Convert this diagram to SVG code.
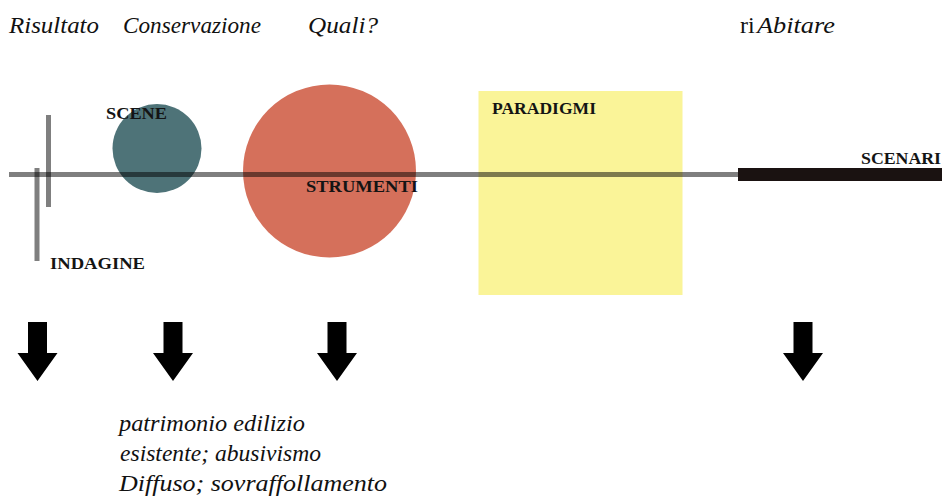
<svg xmlns="http://www.w3.org/2000/svg" width="944" height="499" viewBox="0 0 944 499">
<defs>
<style>
.title{font-family:"Liberation Serif","Times New Roman",serif;font-style:italic;font-size:24px;fill:#111}
.up{font-style:normal}
.lbl{font-family:"Liberation Serif","Times New Roman",serif;font-weight:bold;font-size:16px;fill:#141414}
.note{font-family:"Liberation Serif","Times New Roman",serif;font-style:italic;font-size:24px;fill:#111}
.bar{fill:#000;fill-opacity:0.5}
.arrow{fill:#000}
</style>
<path id="arw" d="M-9.5,0 H9.5 V31 H20 L0,59 L-20,31 H-9.5 Z"/>
</defs>
<rect width="944" height="499" fill="#fff"/>
<g id="titles">
<text class="title" x="9" y="33" textLength="90" lengthAdjust="spacingAndGlyphs">Risultato</text>
<text class="title" x="123" y="33" textLength="138" lengthAdjust="spacingAndGlyphs">Conservazione</text>
<text class="title" x="308" y="33" textLength="70" lengthAdjust="spacingAndGlyphs">Quali?</text>
<text class="title up" x="740" y="33">ri</text>
<text class="title" x="757" y="33" textLength="78" lengthAdjust="spacingAndGlyphs">Abitare</text>
</g>
<g id="scene">
<circle cx="157" cy="148.5" r="44.5" fill="#4e7378"/>
<text class="lbl" x="106" y="119" textLength="61" lengthAdjust="spacingAndGlyphs">SCENE</text>
</g>
<g id="strumenti">
<circle cx="329.5" cy="171" r="86.5" fill="#d5705b"/>
</g>
<g id="paradigmi">
<rect x="478.5" y="91" width="204" height="204" fill="#faf498"/>
<text class="lbl" x="492" y="114" textLength="104" lengthAdjust="spacingAndGlyphs">PARADIGMI</text>
</g>
<g id="connectors">
<rect class="bar" x="9" y="172" width="729" height="5"/>
<rect class="bar" x="46" y="115" width="5" height="92"/>
<rect class="bar" x="34.5" y="168" width="5" height="93"/>
<rect x="738" y="168" width="204" height="13" fill="#1a1211"/>
</g>
<g id="labels">
<text class="lbl" x="306" y="192" textLength="112" lengthAdjust="spacingAndGlyphs">STRUMENTI</text>
<text class="lbl" x="50" y="269" textLength="95" lengthAdjust="spacingAndGlyphs">INDAGINE</text>
<text class="lbl" x="861" y="164" textLength="80" lengthAdjust="spacingAndGlyphs">SCENARI</text>
</g>
<g id="arrows">
<use href="#arw" class="arrow" x="37.5" y="322"/>
<use href="#arw" class="arrow" x="173" y="322"/>
<use href="#arw" class="arrow" x="337" y="322"/>
<use href="#arw" class="arrow" x="803" y="322"/>
</g>
<g id="note">
<text class="note" x="119" y="431" textLength="186" lengthAdjust="spacingAndGlyphs">patrimonio edilizio</text>
<text class="note" x="120" y="461" textLength="201" lengthAdjust="spacingAndGlyphs">esistente; abusivismo</text>
<text class="note" x="119" y="491" textLength="268" lengthAdjust="spacingAndGlyphs">Diffuso; sovraffollamento</text>
</g>
</svg>
